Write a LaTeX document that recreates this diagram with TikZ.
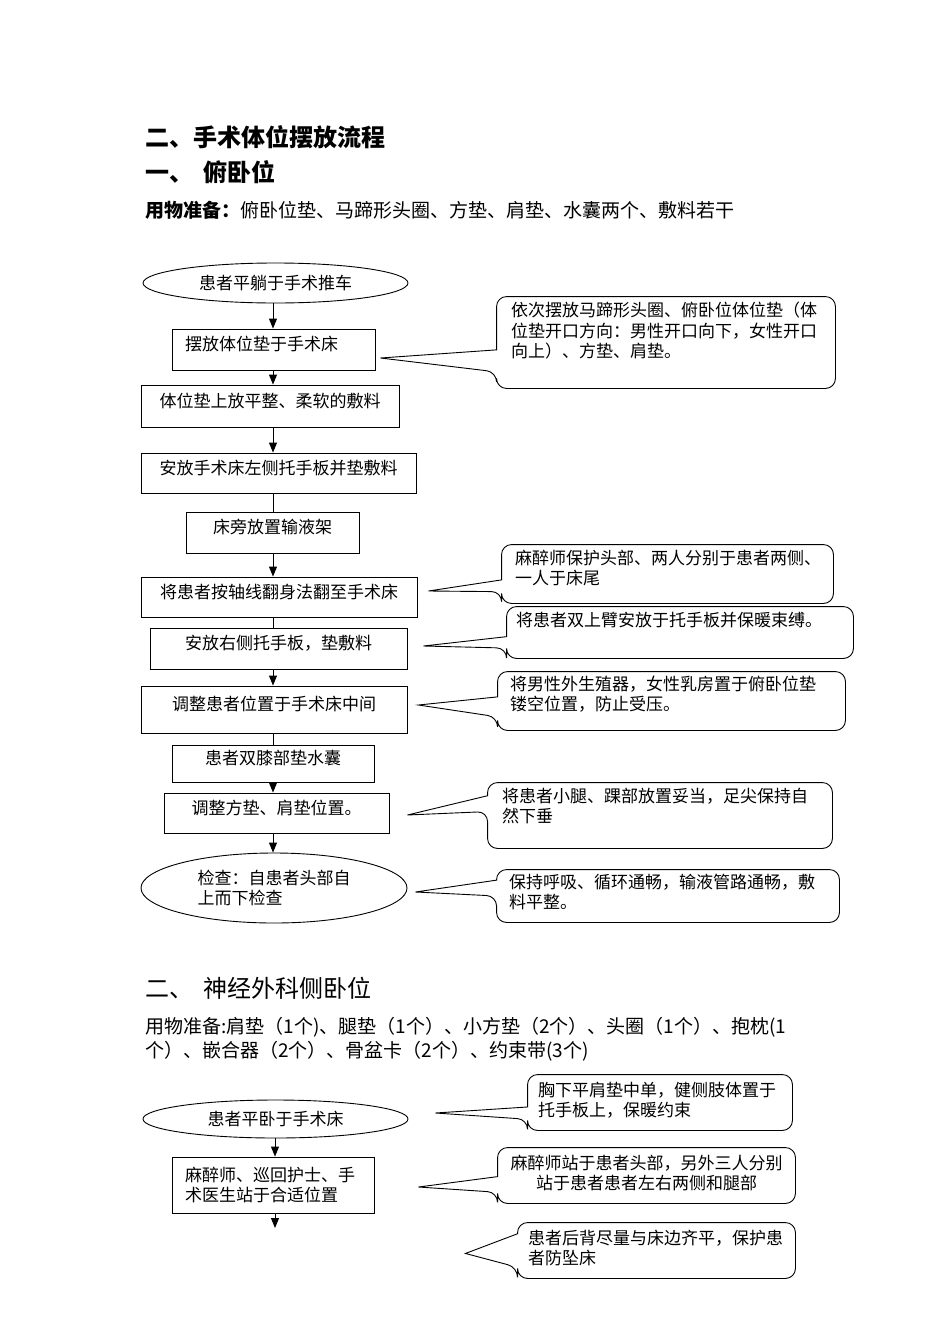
\documentclass[tikz,border=0pt]{standalone}
\usepackage{fontspec}
\newfontfamily\cjk{Noto Sans CJK SC}
\usetikzlibrary{shapes.geometric,arrows.meta,calc}

\begin{document}
\begin{tikzpicture}[x=1pt,y=-1pt,line width=0.9pt,
  >={Triangle[length=10pt,width=8pt]},
  box/.style={draw,rectangle,inner xsep=13pt,inner ysep=2pt,text height=14pt,text depth=12pt,font=\cjk\fontsize{17}{20.5}\selectfont},
  oval/.style={draw,ellipse,inner sep=0pt,font=\cjk\fontsize{17}{20}\selectfont},
  bubble/.style={inner sep=0pt},
  note/.style={anchor=north west,inner sep=0pt,align=left,font=\cjk\fontsize{17}{20.5}\selectfont},
  title/.style={anchor=west,inner sep=0pt,font=\cjk\bfseries\fontsize{24}{28}\selectfont}]
\useasboundingbox (0,0) rectangle (950,1344);

% headings
\node[title] (h1) at (145,137) {二、手术体位摆放流程};
\node[title] (h2) at (145,172) {一、\hspace{10pt}俯卧位};
\node[anchor=west,inner sep=0pt,font=\cjk\fontsize{19}{24}\selectfont] (m1) at (145,210) {\textbf{用物准备：}俯卧位垫、马蹄形头圈、方垫、肩垫、水囊两个、敷料若干};

% prone position
\node[oval,minimum width=265pt,minimum height=40pt] (e1) at (275.5,283) {患者平躺于手术推车};
\node[box,minimum width=203pt,minimum height=41pt,text width=177pt,align=left] (b2) at (273.5,349.5) {摆放体位垫于手术床};
\node[box,minimum width=258pt,minimum height=42pt] (b3) at (270,406) {体位垫上放平整、柔软的敷料};
\node[box,minimum width=275pt,minimum height=40pt] (b4) at (278.5,473) {安放手术床左侧托手板并垫敷料};
\node[box,minimum width=173pt,minimum height=41pt] (b5) at (272.5,532.5) {床旁放置输液架};
\node[box,minimum width=276pt,minimum height=40pt] (b6) at (279,597) {将患者按轴线翻身法翻至手术床};
\node[box,minimum width=257pt,minimum height=41pt] (b7) at (278.5,648.5) {安放右侧托手板，垫敷料};
\node[box,minimum width=266pt,minimum height=47pt] (b8) at (274,709.5) {调整患者位置于手术床中间};
\node[box,minimum width=202pt,minimum height=37pt] (b9) at (273,763.5) {患者双膝部垫水囊};
\node[box,minimum width=225pt,minimum height=40pt] (b10) at (276.5,813) {调整方垫、肩垫位置。};
\node[oval,minimum width=266pt,minimum height=70pt,align=left] (e2) at (274,888) {检查：自患者头部自\\上而下检查};

\coordinate (axis) at (273,0);
\draw[->] (e1.south -| axis) -- (b2.north -| axis);
\draw[->] (b2.south -| axis) -- (b3.north -| axis);
\draw[->] (b3.south -| axis) -- (b4.north -| axis);
\draw (b4.south -| axis) -- (b5.north -| axis);
\draw[->] (b5.south -| axis) -- (b6.north -| axis);
\draw (b6.south -| axis) -- (b7.north -| axis);
\draw[->] (b7.south -| axis) -- (b8.north -| axis);
\draw (b8.south -| axis) -- (b9.north -| axis);
\draw[->] (b9.south -| axis) -- (b10.north -| axis);
\draw[->] (b10.south -| axis) -- (e2.north -| axis);

% callouts
\node[bubble,minimum width=338pt,minimum height=91pt] (c1) at (666,342.5) {};
\node[note] (t1) at ($(c1.north west)+(14,5)$) {依次摆放马蹄形头圈、俯卧位体位垫（体\\位垫开口方向：男性开口向下，女性开口\\向上）、方垫、肩垫。};
\draw (c1.north) [rounded corners=10pt] -- (c1.north east) -- (c1.south east) -- (c1.south west) -- ($(c1.south west)!.18!(c1.north west)$) [sharp corners] -- ($(b2.east)+(5,8.5)$) -- ($(c1.south west)!.42!(c1.north west)$) [rounded corners=10pt] -- (c1.north west) -- (c1.north);

\node[bubble,minimum width=331pt,minimum height=58pt] (c2) at (667.5,574) {};
\node[note] (t2) at ($(c2.north west)+(13,5)$) {麻醉师保护头部、两人分别于患者两侧、\\一人于床尾};
\draw (c2.north) [rounded corners=10pt] -- (c2.north east) -- (c2.south east) -- (c2.south west) -- ($(c2.south west)!.2!(c2.north west)$) [sharp corners] -- ($(b6.east)+(11,-6)$) -- ($(c2.south west)!.4!(c2.north west)$) [rounded corners=10pt] -- (c2.north west) -- (c2.north);

\node[bubble,minimum width=346pt,minimum height=51pt] (c3) at (680,632.5) {};
\node[note] (t3) at ($(c3.north west)+(9,5)$) {将患者双上臂安放于托手板并保暖束缚。};
\draw (c3.north) [rounded corners=10pt] -- (c3.north east) -- (c3.south east) -- (c3.south west) -- ($(c3.south west)!.2!(c3.north west)$) [sharp corners] -- ($(b7.east)+(16,-2.5)$) -- ($(c3.south west)!.42!(c3.north west)$) [rounded corners=10pt] -- (c3.north west) -- (c3.north);

\node[bubble,minimum width=347pt,minimum height=58pt] (c4) at (671.5,701) {};
\node[note] (t4) at ($(c4.north west)+(12,4)$) {将男性外生殖器，女性乳房置于俯卧位垫\\镂空位置，防止受压。};
\draw (c4.north) [rounded corners=10pt] -- (c4.north east) -- (c4.south east) -- (c4.south west) -- ($(c4.south west)!.23!(c4.north west)$) [sharp corners] -- ($(b8.east)+(11,-4.5)$) -- ($(c4.south west)!.57!(c4.north west)$) [rounded corners=10pt] -- (c4.north west) -- (c4.north);

\node[bubble,minimum width=344pt,minimum height=65pt] (c5) at (660,815.5) {};
\node[note] (t5) at ($(c5.north west)+(14,5)$) {将患者小腿、踝部放置妥当，足尖保持自\\然下垂};
\draw (c5.north) [rounded corners=10pt] -- (c5.north east) -- (c5.south east) -- (c5.south west) -- ($(c5.south west)!.56!(c5.north west)$) [sharp corners] -- ($(b10.east)+(18,2)$) -- ($(c5.south west)!.8!(c5.north west)$) [rounded corners=10pt] -- (c5.north west) -- (c5.north);

\node[bubble,minimum width=342pt,minimum height=52pt] (c6) at (668,896) {};
\node[note] (t6) at ($(c6.north west)+(12,4)$) {保持呼吸、循环通畅，输液管路通畅，敷\\料平整。};
\draw (c6.north) [rounded corners=10pt] -- (c6.north east) -- (c6.south east) -- (c6.south west) -- ($(c6.south west)!.5!(c6.north west)$) [sharp corners] -- ($(e2.east)+(8,4)$) -- ($(c6.south west)!.8!(c6.north west)$) [rounded corners=10pt] -- (c6.north west) -- (c6.north);

% lateral position
\node[title,font=\cjk\fontsize{24}{28}\selectfont] (h3) at (145,988) {二、\hspace{10pt}神经外科侧卧位};
\node[anchor=north west,inner sep=0pt,align=left,font=\cjk\fontsize{19}{24}\selectfont] (m2) at (145,1017) {用物准备:肩垫（1个)、腿垫（1个）、小方垫（2个）、头圈（1个）、抱枕(1\\个）、嵌合器（2个）、骨盆卡（2个）、约束带(3个)};

\node[oval,minimum width=265pt,minimum height=38pt] (e3) at (275.5,1119) {患者平卧于手术床};
\node[box,minimum width=202pt,minimum height=56pt,text width=176pt,align=left,text height=,text depth=] (b11) at (273,1185) {麻醉师、巡回护士、手\\术医生站于合适位置};

\coordinate (axisb) at (275,0);
\coordinate (tail) at (275,1228);
\draw[->] (e3.south -| axisb) -- (b11.north -| axisb);
\draw[->] (b11.south -| axisb) -- (tail);

\node[bubble,minimum width=264pt,minimum height=55pt] (c7) at (660,1102.5) {};
\node[note] (t7) at ($(c7.north west)+(10,7)$) {胸下平肩垫中单，健侧肢体置于\\托手板上，保暖约束};
\draw (c7.north) [rounded corners=10pt] -- (c7.north east) -- (c7.south east) -- (c7.south west) -- ($(c7.south west)!.2!(c7.north west)$) [sharp corners] -- ($(e3.east)+(27,-6)$) -- ($(c7.south west)!.42!(c7.north west)$) [rounded corners=10pt] -- (c7.north west) -- (c7.north);

\node[bubble,minimum width=297pt,minimum height=55pt] (c8) at (646.5,1175.5) {};
\node[note,anchor=north,align=center] (t8) at ($(c8.north)+(0,7)$) {麻醉师站于患者头部，另外三人分别\\站于患者患者左右两侧和腿部};
\draw (c8.north) [rounded corners=10pt] -- (c8.north east) -- (c8.south east) -- (c8.south west) -- ($(c8.south west)!.2!(c8.north west)$) [sharp corners] -- ($(b11.east)+(44,2)$) -- ($(c8.south west)!.48!(c8.north west)$) [rounded corners=10pt] -- (c8.north west) -- (c8.north);

\node[bubble,minimum width=277pt,minimum height=55pt] (c9) at (656.5,1250.5) {};
\node[note] (t9) at ($(c9.north west)+(10,7)$) {患者后背尽量与床边齐平，保护患\\者防坠床};
\draw (c9.north) [rounded corners=10pt] -- (c9.north east) -- (c9.south east) -- (c9.south west) -- ($(c9.south west)!.2!(c9.north west)$) [sharp corners] -- ($(b11.south east)+(91,40)$) -- ($(c9.south west)!.8!(c9.north west)$) [rounded corners=10pt] -- (c9.north west) -- (c9.north);
\end{tikzpicture}
\end{document}
